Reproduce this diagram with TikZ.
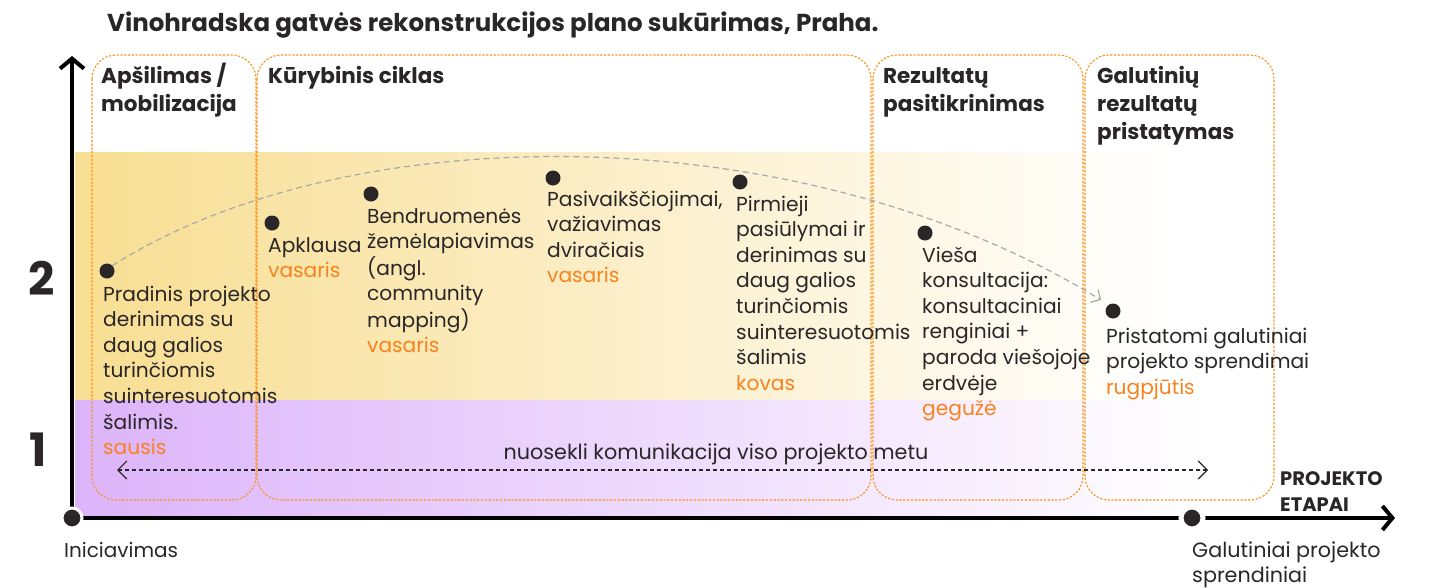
\documentclass[tikz,border=0pt]{standalone}
\usepackage{fontspec}
\setmainfont{Poppins}
\usetikzlibrary{arrows.meta}
\definecolor{orng}{HTML}{F7941D}
\definecolor{ylw}{HTML}{F8DE92}
\definecolor{prp}{HTML}{DCB4FA}
\definecolor{ink}{HTML}{2A2628}
\definecolor{datec}{HTML}{F7821E}
\definecolor{arcgray}{HTML}{A8A8A8}
\newcommand\evtxt[1]{\begin{tabular}[t]{@{}l@{}}#1\end{tabular}}
\newcommand\dt[1]{\textcolor{datec}{#1}}
\tikzset{
  phase/.style={draw=orng, line width=1.1pt, dash pattern=on 2.2pt off 1.6pt, rounded corners=24pt},
  axisline/.style={draw=black, line width=4pt},
  evdot/.style={circle, fill=ink, inner sep=0pt, minimum size=15pt},
  enddot/.style={circle, fill=ink, draw=white, line width=3pt, inner sep=0pt, minimum size=20pt},
  evt/.style={anchor=base west, inner sep=0pt, text=ink, font=\fontsize{20.2}{25.6}\selectfont},
  hdr/.style={anchor=base west, inner sep=0pt, text=ink, font=\bfseries\fontsize{21.5}{28}\selectfont},
  small/.style={anchor=base west, inner sep=0pt, text=ink, font=\fontsize{20}{25}\selectfont},
}
\begin{document}
\begin{tikzpicture}[x=1pt,y=-1pt]
\useasboundingbox (0,0) rectangle (1429,587);
% background bands
\fill[left color=ylw, right color=white] (75,152) rectangle (1170,400);
\fill[left color=prp, right color=white] (75,400) rectangle (1210,516);
% title
\node[anchor=base west, inner sep=0pt, text=ink, font=\bfseries\fontsize{24.5}{27}\selectfont] (title) at (107,31) {Vinohradska gatvės rekonstrukcijos plano sukūrimas, Praha.};
% phase boxes
\draw[phase] (92,55) rectangle (256,500);
\draw[phase] (257,55) rectangle (871,500);
\draw[phase] (873,55) rectangle (1083,500);
\draw[phase] (1085,55) rectangle (1274,500);
% phase headers
\node[hdr] (h1) at (101,83) {\evtxt{Apšilimas /\\ mobilizacija}};
\node[hdr] (h2) at (268,83) {Kūrybinis ciklas};
\node[hdr] (h3) at (883,83) {\evtxt{Rezultatų\\ pasitikrinimas}};
\node[hdr] (h4) at (1097,83) {\evtxt{Galutinių\\ rezultatų\\ pristatymas}};
% level labels
\node[anchor=center, inner sep=0pt, text=ink, font=\bfseries\fontsize{46}{46}\selectfont] (l2) at (42,278) {2};
\node[anchor=center, inner sep=0pt, text=ink, font=\bfseries\fontsize{46}{46}\selectfont] (l1) at (38,450) {1};
% axes
\coordinate (o) at (72,518);
\coordinate (ytop) at (72,56);
\coordinate (xend) at (1395,518);
\draw[axisline, -{Straight Barb[length=10pt,width=24pt]}] (o) -- (ytop);
\draw[axisline, -{Straight Barb[length=10pt,width=24pt]}] (o) -- (xend);
\node[enddot] (start) at (o) {};
\node[enddot, minimum size=22pt, line width=5pt] (fin) at (1192,518) {};
\node[small] (startlbl) at (64,557) {Iniciavimas};
\node[small, font=\fontsize{20.7}{25}\selectfont] (finlbl) at (1192,557) {\evtxt{Galutiniai projekto\\ sprendiniai}};
\node[anchor=base west, inner sep=0pt, text=ink, font=\bfseries\fontsize{19.5}{26}\selectfont] (etapai) at (1280,485) {\evtxt{PROJEKTO\\ ETAPAI}};
% events
\node[evdot] (d1) at (107,271) {};
\node[evdot] (d2) at (272,223) {};
\node[evdot] (d3) at (371,194) {};
\node[evdot] (d4) at (553,178) {};
\node[evdot] (d5) at (740,182) {};
\node[evdot] (d6) at (925,233) {};
\node[evdot] (d7) at (1113,311) {};
\node[evt] (t1) at (103,301) {\evtxt{Pradinis projekto\\ derinimas su\\ daug galios\\ turinčiomis\\ suinteresuotomis\\ šalimis.\\ \dt{sausis}}};
\node[evt] (t2) at (268,252) {\evtxt{Apklausa\\ \dt{vasaris}}};
\node[evt] (t3) at (367,223) {\evtxt{Bendruomenės\\ žemėlapiavimas\\ (angl.\\ community\\ mapping)\\ \dt{vasaris}}};
\node[evt] (t4) at (547,206) {\evtxt{Pasivaikščiojimai,\\ važiavimas\\ dviračiais\\ \dt{vasaris}}};
\node[evt] (t5) at (736,211) {\evtxt{Pirmieji\\ pasiūlymai ir\\ derinimas su\\ daug galios\\ turinčiomis\\ suinteresuotomis\\ šalimis\\ \dt{kovas}}};
\node[evt] (t6) at (922,262) {\evtxt{Vieša\\ konsultacija:\\ konsultaciniai\\ renginiai +\\ paroda viešojoje\\ erdvėje\\ \dt{gegužė}}};
\node[evt] (t7) at (1106,343) {\evtxt{Pristatomi galutiniai\\ projekto sprendimai\\ \dt{rugpjūtis}}};
% trend arc
\coordinate (arcend) at (1101,300);
\draw[arcgray, line width=1.2pt, dash pattern=on 6pt off 4pt, -{Straight Barb[length=7pt,width=15pt]}]
  (d1.north east) .. controls (350,115) and (800,115) .. (arcend);
% communication line
\coordinate (cl) at (117,470);
\coordinate (cr) at (1208,470);
\draw[ink, line width=1.1pt, dash pattern=on 4pt off 3pt, {Straight Barb[length=9pt,width=18pt]}-{Straight Barb[length=9pt,width=18pt]}] (cl) -- (cr);
\node[anchor=base, inner sep=0pt, text=ink, font=\fontsize{20.7}{25}\selectfont] (comm) at (716,459) {nuosekli komunikacija viso projekto metu};
\end{tikzpicture}
\end{document}
